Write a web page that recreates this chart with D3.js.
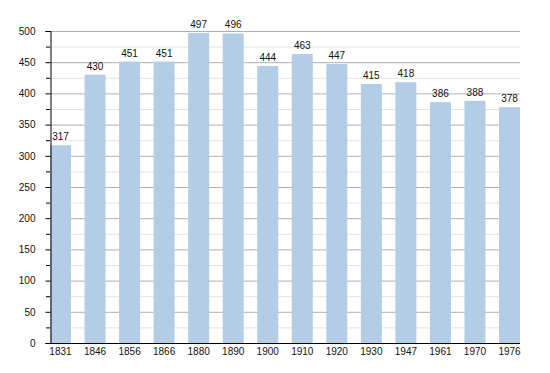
<!DOCTYPE html>
<html>
<head>
<meta charset="utf-8">
<script src="https://cdn.jsdelivr.net/npm/d3@7"></script>
<style>
  body { margin: 0; background: #fff; }
  text { font-family: "Liberation Sans", Arial, sans-serif; }
</style>
</head>
<body>
<div id="chart"></div>
<script>
// Population by census year
const years = ['1831', '1846', '1856', '1866', '1880', '1890', '1900', '1910', '1920', '1930', '1947', '1961', '1970', '1976'];
const population = [317, 430, 451, 451, 497, 496, 444, 463, 447, 415, 418, 386, 388, 378];
const majorTicks = [0, 50, 100, 150, 200, 250, 300, 350, 400, 450, 500];
const minorTicks = [25, 75, 125, 175, 225, 275, 325, 375, 425, 475];

const width = 550, height = 373;
const plotLeft = 50, plotRight = 520, plotTop = 31, plotBottom = 343;
const fontFamily = '"Liberation Sans", Arial, sans-serif';

const svg = d3.select('#chart').append('svg')
  .attr('width', width)
  .attr('height', height);

const x = d3.scaleBand()
  .domain(years)
  .range([plotLeft, plotRight])
  .paddingInner(0.392)
  .paddingOuter(0);

const y = d3.scaleLinear()
  .domain([0, 500])
  .range([plotBottom, plotTop]);

// Grid lines
svg.append('g')
  .selectAll('line')
  .data(minorTicks)
  .join('line')
  .attr('x1', plotLeft).attr('x2', plotRight)
  .attr('y1', d => y(d) + 0.5).attr('y2', d => y(d) + 0.5)
  .attr('stroke', '#e3e3e3');

svg.append('g')
  .selectAll('line')
  .data(majorTicks.slice(1))
  .join('line')
  .attr('x1', plotLeft).attr('x2', plotRight)
  .attr('y1', d => y(d) + 0.5).attr('y2', d => y(d) + 0.5)
  .attr('stroke', '#b0b0b0');

// Bars
svg.append('g')
  .selectAll('rect')
  .data(population)
  .join('rect')
  .attr('x', (d, i) => x(years[i]))
  .attr('y', d => y(d))
  .attr('width', x.bandwidth())
  .attr('height', d => plotBottom - y(d))
  .attr('fill', '#b3cde6');

// Value labels
svg.append('g')
  .selectAll('text')
  .data(population)
  .join('text')
  .attr('x', (d, i) => x(years[i]) + x.bandwidth() / 2)
  .attr('y', d => y(d) - 5)
  .attr('text-anchor', 'middle')
  .attr('font-size', '10px')
  .attr('fill', '#111')
  .text(d => d);

// Y axis
const yAxis = svg.append('g')
  .attr('transform', `translate(${plotLeft + 0.5},0)`)
  .call(d3.axisLeft(y).tickValues(majorTicks).tickSize(5).tickPadding(10));
yAxis.select('.domain').attr('stroke', '#000');
yAxis.selectAll('.tick text').attr('font-size', '10px').attr('fill', '#111')
  .style('font-family', fontFamily);

svg.append('g')
  .selectAll('line')
  .data(minorTicks)
  .join('line')
  .attr('x1', plotLeft - 4).attr('x2', plotLeft)
  .attr('y1', d => y(d) + 0.5).attr('y2', d => y(d) + 0.5)
  .attr('stroke', '#000');

// X axis
const xAxis = svg.append('g')
  .attr('transform', `translate(0,${plotBottom + 0.5})`)
  .call(d3.axisBottom(x).tickSize(0).tickPadding(4));
xAxis.select('.domain').attr('stroke', '#000').attr('d', `M${plotLeft},0H${plotRight}`);
xAxis.selectAll('.tick text').attr('font-size', '10px').attr('fill', '#111')
  .style('font-family', fontFamily);
</script>
</body>
</html>
